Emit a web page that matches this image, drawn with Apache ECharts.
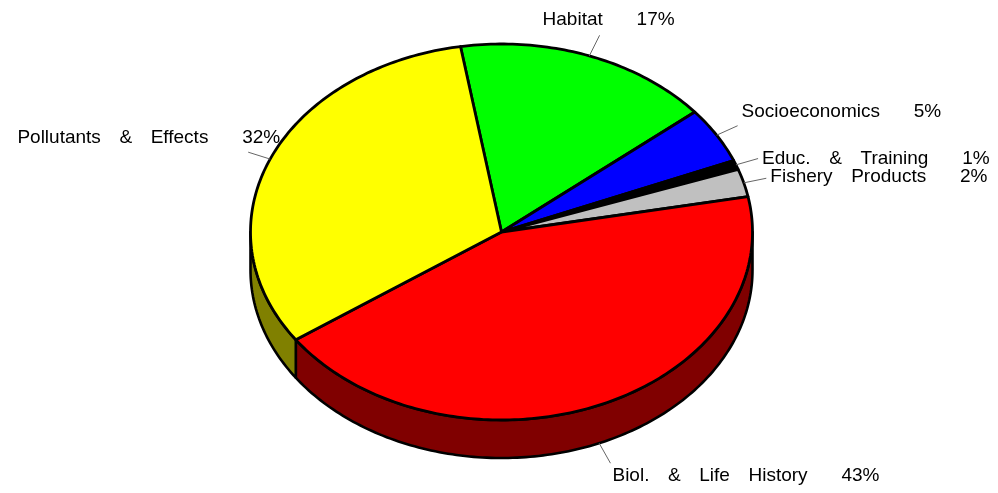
<!DOCTYPE html>
<html><head><meta charset="utf-8">
<script src="https://cdn.jsdelivr.net/npm/echarts@6/dist/echarts.min.js"></script>
<style>html,body{margin:0;padding:0;background:#fff;overflow:hidden}#c{width:998px;height:493px}</style>
</head><body><div id="c"></div>
<script>
// ---- data ----
const categories = ['Habitat', 'Socioeconomics', 'Educ. & Training', 'Fishery Products', 'Biol. & Life History', 'Pollutants & Effects'];
const shares = [16.6, 4.8, 0.8, 2.4, 43.3, 32.1];

// ---- styles ----
const topColors = ['#00ff00', '#0000ff', '#000000', '#c0c0c0', '#ff0000', '#ffff00'];
const sideColors = ['#008000', '#000080', '#000000', '#808080', '#800000', '#808000'];
// label attachment relative to leader end: [align, dx, dy]
const labelLayout = [['center', 9, -16], ['left', 4, -13.5], ['left', 4, 0], ['left', 4, -1], ['left', 2, 13], ['right', 32, -14.5]];

const CX = 501.5, CY = 232, RX = 251, RY = 188, DEPTH = 38, START = 99.4, LEAD = 23;
const FONT = '19px "Liberation Sans", Arial, sans-serif';
const WORD_GAP = '\u2002 \u2009';
const PCT_GAP = '\u2003\u2002 ';
const total = shares.reduce((a, b) => a + b, 0);
const rad = d => d * Math.PI / 180;
const ex = t => CX + RX * Math.cos(rad(t));
const ey = t => CY - RY * Math.sin(rad(t));

function arc(from, to, dy) {
  const pts = [];
  const n = Math.max(2, Math.ceil(Math.abs(to - from)));
  for (let j = 0; j <= n; j++) {
    const t = from + (to - from) * j / n;
    pts.push([ex(t), ey(t) + dy]);
  }
  return pts;
}

function renderItem(params, api) {
  const i = params.dataIndex;
  let cum = 0;
  for (let k = 0; k < i; k++) cum += shares[k];
  const v = api.value(0);
  const a0 = START - cum / total * 360;
  const a1 = a0 - v / total * 360;
  const children = [];
  // sides (visible lower half: 180..360 mod 360)
  for (let k = -2; k <= 2; k++) {
    const lo = Math.max(a1, 180 + 360 * k), hi = Math.min(a0, 360 + 360 * k);
    if (hi > lo) {
      const pts = arc(lo, hi, 0).concat(arc(hi, lo, DEPTH));
      children.push({ type: 'polygon', shape: { points: pts }, z2: 1,
        style: { fill: sideColors[i], stroke: '#000', lineWidth: 2.6, lineJoin: 'round' } });
    }
  }
  // top face
  const top = [[CX, CY]].concat(arc(a0, a1, 0));
  children.push({ type: 'polygon', shape: { points: top }, z2: 2,
    style: { fill: topColors[i], stroke: '#000', lineWidth: 2.8, lineJoin: 'round' } });
  // leader + label
  const m = (a0 + a1) / 2;
  const c = Math.cos(rad(m)), s = Math.sin(rad(m));
  const px = ex(m), py = ey(m) + (s < 0 ? DEPTH : 0);
  let ux = RX * c, uy = -RY * s;
  const len = Math.hypot(ux, uy); ux /= len; uy /= len;
  const qx = px + ux * LEAD, qy = py + uy * LEAD;
  children.push({ type: 'line', shape: { x1: px, y1: py, x2: qx, y2: qy }, z2: 5,
    style: { stroke: '#666', lineWidth: 1 } });
  const lay = labelLayout[i];
  const txt = categories[i].split(' ').join(WORD_GAP) + PCT_GAP + Math.round(v / total * 100) + '%';
  children.push({ type: 'text', z2: 6, style: { text: txt, x: qx + lay[1], y: qy + lay[2],
    align: lay[0], verticalAlign: 'middle', font: FONT, fill: '#000' } });
  return { type: 'group', children };
}

const chart = echarts.init(document.getElementById('c'), null, { renderer: 'canvas' });
chart.setOption({
  backgroundColor: '#ffffff',
  animation: false,
  series: [{
    type: 'custom',
    coordinateSystem: 'none',
    renderItem,
    data: shares.map((v, i) => ({ name: categories[i], value: [v] }))
  }]
});
</script></body></html>
